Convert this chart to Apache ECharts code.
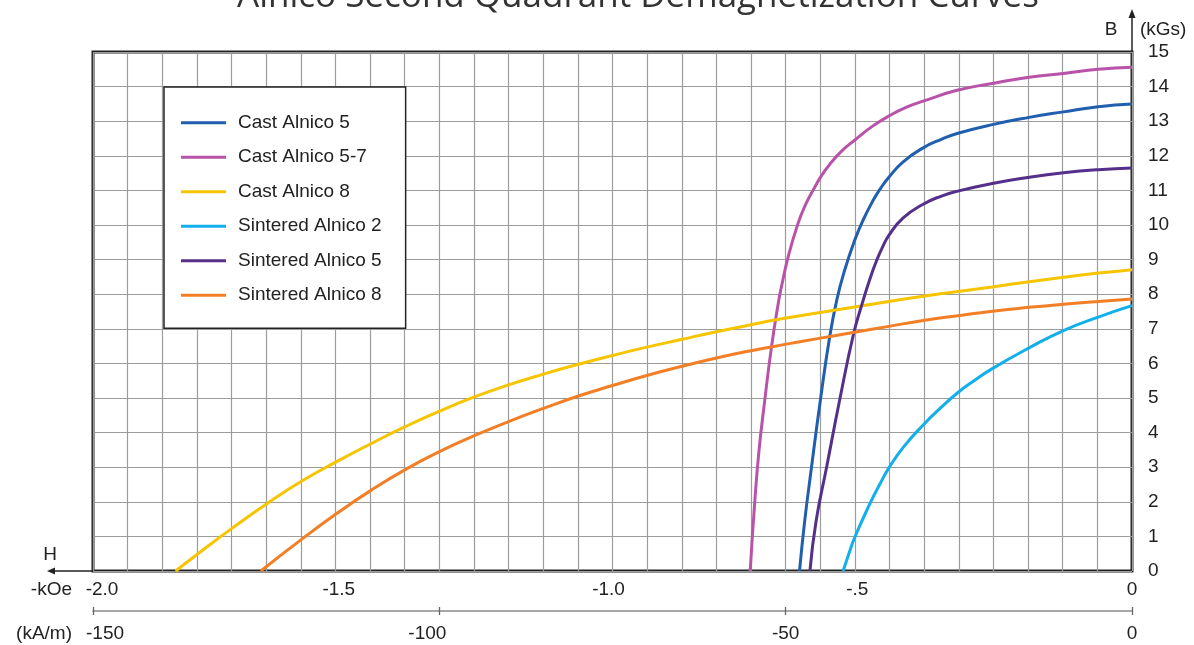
<!DOCTYPE html>
<html>
<head>
<meta charset="utf-8">
<script src="https://cdn.jsdelivr.net/npm/echarts@6/dist/echarts.min.js"></script>
<style>html,body{margin:0;padding:0;background:#fff;}#c{width:1194px;height:645px;}</style>
</head>
<body>
<div id="c"></div>
<script>
// ---- Data (H in -kOe, B in kGs) ----
const seriesNames = ['Cast Alnico 5','Cast Alnico 5-7','Cast Alnico 8','Sintered Alnico 2','Sintered Alnico 5','Sintered Alnico 8'];
const castAlnico5 = [[-0.640,0],[-0.630,1.45],[-0.617,2.99],[-0.600,4.92],[-0.582,6.76],[-0.568,7.85],[-0.553,8.7],[-0.534,9.55],[-0.518,10.13],[-0.498,10.72],[-0.483,11.08],[-0.468,11.38],[-0.441,11.82],[-0.402,12.23],[-0.368,12.47],[-0.335,12.65],[-0.269,12.9],[-0.198,13.11],[-0.132,13.27],[-0.065,13.42],[0,13.5]];
const castAlnico57 = [[-0.735,0],[-0.726,2.03],[-0.718,3.48],[-0.707,4.92],[-0.694,6.47],[-0.680,7.82],[-0.675,8.2],[-0.662,9.07],[-0.643,10.04],[-0.628,10.6],[-0.614,11.0],[-0.598,11.42],[-0.582,11.75],[-0.558,12.15],[-0.534,12.45],[-0.500,12.85],[-0.468,13.15],[-0.435,13.4],[-0.402,13.58],[-0.335,13.9],[-0.269,14.09],[-0.198,14.27],[-0.132,14.38],[-0.065,14.5],[0,14.56]];
const castAlnico8 = [[-1.841,0],[-1.796,0.52],[-1.732,1.24],[-1.664,1.96],[-1.598,2.6],[-1.531,3.16],[-1.465,3.68],[-1.399,4.17],[-1.333,4.62],[-1.266,5.03],[-1.2,5.38],[-1.133,5.69],[-1.067,5.97],[-1.0,6.23],[-0.934,6.47],[-0.868,6.69],[-0.802,6.91],[-0.736,7.11],[-0.685,7.26],[-0.600,7.47],[-0.534,7.63],[-0.468,7.79],[-0.402,7.94],[-0.335,8.08],[-0.269,8.21],[-0.198,8.36],[-0.132,8.49],[-0.065,8.61],[0,8.71]];
const sinteredAlnico2 = [[-0.556,0],[-0.545,0.5],[-0.534,0.96],[-0.505,1.93],[-0.485,2.52],[-0.468,2.98],[-0.440,3.58],[-0.402,4.22],[-0.368,4.72],[-0.335,5.16],[-0.302,5.52],[-0.269,5.85],[-0.198,6.45],[-0.132,6.95],[-0.065,7.34],[0,7.67]];
const sinteredAlnico5 = [[-0.620,0],[-0.608,1.45],[-0.588,2.99],[-0.563,4.92],[-0.536,6.85],[-0.518,7.8],[-0.505,8.42],[-0.492,8.96],[-0.480,9.37],[-0.468,9.7],[-0.441,10.2],[-0.402,10.6],[-0.368,10.83],[-0.335,10.98],[-0.269,11.2],[-0.198,11.38],[-0.132,11.51],[-0.065,11.6],[0,11.65]];
const sinteredAlnico8 = [[-1.677,0],[-1.598,0.92],[-1.531,1.66],[-1.465,2.33],[-1.399,2.93],[-1.333,3.45],[-1.266,3.91],[-1.2,4.32],[-1.133,4.7],[-1.067,5.05],[-1.0,5.36],[-0.934,5.65],[-0.868,5.91],[-0.802,6.15],[-0.736,6.36],[-0.668,6.55],[-0.600,6.73],[-0.534,6.9],[-0.468,7.07],[-0.402,7.24],[-0.335,7.38],[-0.269,7.51],[-0.198,7.62],[-0.132,7.71],[-0.065,7.79],[0,7.86]];
const seriesData = [castAlnico5, castAlnico57, castAlnico8, sinteredAlnico2, sinteredAlnico5, sinteredAlnico8];
const seriesColors = ['#1f5fae','#b952a9','#f7c400','#12b0ea','#55308a','#f27f25'];
const kOeTicks = {'-2':'-2.0','-1.5':'-1.5','-1':'-1.0','-0.5':'-.5','0':'0'};
const kAmTicks = {'-150':'-150','-100':'-100','-50':'-50','0':'0'};

const FONT = 'Liberation Sans';
const chart = echarts.init(document.getElementById('c'));

const kOeShift = {'-2':'sR','-1.5':'sL14','-1':'sL4','-0.5':'sL15','0':'n'};
const kAmShift = {'-150':'sR12','-100':'sL12','-50':'n','0':'n'};
const baseLbl = {fontSize:19, color:'#222', fontFamily:FONT};

const option = {
  animation: false,
  textStyle: {fontFamily: FONT},
  grid: {left:93, top:52, width:1039, height:519, show:true, borderColor:'#222', borderWidth:3, backgroundColor:'transparent'},
  xAxis: [
    {type:'value', min:-30, max:0, interval:1, position:'bottom',
     axisLine:{show:false,onZero:false}, axisTick:{show:false}, axisLabel:{show:false},
     splitLine:{show:true, lineStyle:{color:'#9c9c9c', width:1.2}}},
    {type:'value', min:-2, max:0, interval:0.5, position:'bottom',
     axisLine:{show:false,onZero:false}, axisTick:{show:false}, splitLine:{show:false},
     axisLabel:{margin:9, fontSize:19, color:'#222', fontFamily:FONT,
       formatter: v => { const k = String(Math.round(v*10)/10); return '{' + kOeShift[k] + '|' + kOeTicks[k] + '}'; },
       rich:{ n:baseLbl, sR:Object.assign({padding:[0,0,0,18]},baseLbl), sL14:Object.assign({padding:[0,28,0,0]},baseLbl),
              sL4:Object.assign({padding:[0,8,0,0]},baseLbl), sL15:Object.assign({padding:[0,30,0,0]},baseLbl)}}},
    {type:'value', min:-150, max:0, interval:50, position:'bottom', offset:40,
     axisLine:{show:true,onZero:false, lineStyle:{color:'#8a8a8a', width:1.5}},
     axisTick:{show:true, length:4, lineStyle:{color:'#666', width:1.3}}, splitLine:{show:false},
     axisLabel:{margin:13, fontSize:19, color:'#222', fontFamily:FONT,
       formatter: v => { const k = String(Math.round(v)); return '{' + kAmShift[k] + '|' + kAmTicks[k] + '}'; },
       rich:{ n:baseLbl, sR12:Object.assign({padding:[0,0,0,24]},baseLbl), sL12:Object.assign({padding:[0,24,0,0]},baseLbl)}}},
    {type:'value', min:-150, max:0, interval:50, position:'bottom', offset:40,
     axisLine:{show:false,onZero:false}, axisTick:{show:true, inside:true, length:4, lineStyle:{color:'#666', width:1.3}},
     axisLabel:{show:false}, splitLine:{show:false}}
  ],
  yAxis: [
    {type:'value', min:0, max:15, interval:1, position:'right',
     axisLine:{show:false,onZero:false}, axisTick:{show:false},
     axisLabel:{margin:16, fontSize:19, color:'#222', fontFamily:FONT},
     splitLine:{show:true, lineStyle:{color:'#9c9c9c', width:1.2}}}
  ],
  legend: {
    orient:'vertical', left:164, top:87, padding:[25.7,24,23,17], itemGap:14.5,
    itemWidth:45, itemHeight:3, icon:'rect',
    textStyle:{fontSize:19, color:'#222', fontFamily:FONT, lineHeight:20, padding:[0,0,0,7]},
    borderColor:'#222', borderWidth:1.5, backgroundColor:'#fff',
    data: seriesNames, selectedMode:false
  },
  series: seriesNames.map((name,i) => ({
    name, type:'line', xAxisIndex:1, yAxisIndex:0, data: seriesData[i],
    smooth:0.5, showSymbol:false, symbol:'none',
    lineStyle:{color:seriesColors[i], width:3}, itemStyle:{color:seriesColors[i]},
    clip:true, z:3
  })),
  graphic: [
    {type:'text', style:{text:'Alnico Second Quadrant Demagnetization Curves', x:638, y:-3,
      fill:'#333', font:'normal 35px "Open Sans"', textAlign:'center', textVerticalAlign:'middle'}},
    {type:'line', shape:{x1:93, y1:571, x2:53, y2:571}, style:{stroke:'#222', lineWidth:1.5}},
    {type:'polygon', shape:{points:[[47,571],[55,567.5],[55,574.5]]}, style:{fill:'#222'}},
    {type:'line', shape:{x1:1132, y1:52, x2:1132, y2:16}, style:{stroke:'#222', lineWidth:1.5}},
    {type:'polygon', shape:{points:[[1132,9],[1128.5,18],[1135.5,18]]}, style:{fill:'#222'}},
    {type:'text', style:{text:'H', x:50, y:555, fill:'#222', font:'19px "Liberation Sans"', textAlign:'center', textVerticalAlign:'middle'}},
    {type:'text', style:{text:'-kOe', x:72, y:590, fill:'#222', font:'19px "Liberation Sans"', textAlign:'right', textVerticalAlign:'middle'}},
    {type:'text', style:{text:'(kA/m)', x:72, y:634, fill:'#222', font:'19px "Liberation Sans"', textAlign:'right', textVerticalAlign:'middle'}},
    {type:'text', style:{text:'B', x:1111, y:30, fill:'#222', font:'19px "Liberation Sans"', textAlign:'center', textVerticalAlign:'middle'}},
    {type:'text', style:{text:'(kGs)', x:1140, y:30, fill:'#222', font:'19px "Liberation Sans"', textAlign:'left', textVerticalAlign:'middle'}}
  ]
};
chart.setOption(option);
</script>
</body>
</html>
